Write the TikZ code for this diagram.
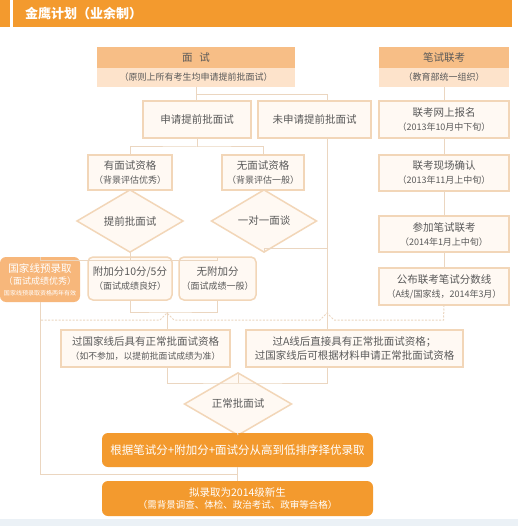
\documentclass[tikz,border=0pt]{standalone}
\usepackage{fontspec}
\setmainfont{Noto Sans CJK SC}
\usetikzlibrary{shapes.geometric}
\definecolor{og}{HTML}{F39A2E}
\definecolor{hd}{HTML}{F7BE86}
\definecolor{hl}{HTML}{FDE3CB}
\definecolor{bd}{HTML}{F2D6B8}
\definecolor{bf}{HTML}{FFF9F3}
\definecolor{ln}{HTML}{EBD6C0}
\definecolor{tx}{HTML}{595959}
\definecolor{lo}{HTML}{F7B77B}
\definecolor{bgs}{HTML}{EBF1F6}
\newcommand\fsA{\fontsize{10.5}{14}\selectfont}
\newcommand\fsB{\fontsize{9}{13}\selectfont}
\tikzset{
  box/.style={draw=bd, fill=bf, line width=1.5pt, inner sep=0pt, outer sep=0pt, align=center, text=tx, font=\fsA},
  rbox/.style={box, rounded corners=5pt},
  dia/.style={diamond, draw=bd, fill=bf, line width=1.5pt, inner sep=0pt, outer sep=0pt, text=tx, font=\fsA},
  hdr/.style={fill=hd, inner sep=0pt, outer sep=0pt, text=tx, font=\fsA},
  hdl/.style={fill=hl, inner sep=0pt, outer sep=0pt, text=tx, font=\fsB},
  obox/.style={fill=og, rounded corners=6pt, inner sep=0pt, outer sep=0pt, align=center, text=white},
  con/.style={draw=ln, line width=1pt},
  dsh/.style={draw=ln, line width=1pt, dash pattern=on 2pt off 1.5pt},
}
\begin{document}
\begin{tikzpicture}[x=1pt,y=-1pt]
\useasboundingbox (0,0) rectangle (518,526);
\fill[white] (0,0) rectangle (518,526);
\fill[bgs] (0,519) rectangle (518,526);
% title bar
\fill[og] (0,0) rectangle (10,27);
\fill[og] (13,0) rectangle (512,27);
\node[anchor=west, text=white, font=\fontsize{13}{15}\bfseries\selectfont, inner sep=0pt] (title) at (25,13.5) {金鹰计划（业余制）};
% headers
\node[hdr, minimum width=198pt, minimum height=21pt] (ms) at (196,57.5) {面\hspace{7pt}试};
\node[hdl, minimum width=198pt, minimum height=19pt] (ms2) at (196,77.5) {（原则上所有考生均申请提前批面试）};
\node[hdr, minimum width=130pt, minimum height=21pt] (bs) at (444,57.5) {笔试联考};
\node[hdl, minimum width=130pt, minimum height=19pt] (bs2) at (444,77.5) {（教育部统一组织）};
% left branch
\node[box, minimum width=108pt, minimum height=37pt] (sq) at (197,119.5) {申请提前批面试};
\node[box, minimum width=113pt, minimum height=37pt] (wsq) at (314.5,119.5) {未申请提前批面试};
\node[box, minimum width=84pt, minimum height=35pt] (ymz) at (130,172.5) {有面试资格\\{\fsB（背景评估优秀）}};
\node[box, minimum width=82pt, minimum height=35pt] (wmz) at (263,172.5) {无面试资格\\{\fsB（背景评估一般）}};
\node[dia, minimum width=106pt, minimum height=42pt] (d1) at (130,221) {提前批面试};
\node[dia, minimum width=105pt, minimum height=42pt] (d2) at (264,221) {一对一面谈};
\node[obox, fill=lo, minimum width=80pt, minimum height=45pt, font=\fsA] (gjx) at (40,279.5) {国家线预录取\\[-2pt]{\fsB（面试成绩优秀）}\\[-3pt]{\fontsize{6}{8}\selectfont 国家线预录取资格两年有效}};
\node[rbox, minimum width=84pt, minimum height=43pt] (fjf) at (130,278.5) {附加分10分/5分\\{\fsB（面试成绩良好）}};
\node[rbox, minimum width=77pt, minimum height=43pt] (wfj) at (217.5,278.5) {无附加分\\{\fsB（面试成绩一般）}};
% right column
\node[box, minimum width=130pt, minimum height=37pt] (r1) at (444,119.5) {联考网上报名\\{\fsB（2013年10月中下旬）}};
\node[box, minimum width=130pt, minimum height=36pt] (r2) at (444,173) {联考现场确认\\{\fsB（2013年11月上中旬）}};
\node[box, minimum width=130pt, minimum height=36pt] (r3) at (444,234) {参加笔试联考\\{\fsB（2014年1月上中旬）}};
\node[box, minimum width=130pt, minimum height=37pt] (r4) at (444,286.5) {公布联考笔试分数线\\{\fsB（A线/国家线，2014年3月）}};
% lower
\node[box, minimum width=169pt, minimum height=37pt] (g1) at (145.5,348.5) {过国家线后具有正常批面试资格\\{\fontsize{8.8}{12}\selectfont（如不参加，以提前批面试成绩为准）}};
\node[box, minimum width=217pt, minimum height=37pt] (g2) at (354.5,348.5) {过A线后直接具有正常批面试资格；\\过国家线后可根据材料申请正常批面试资格};
\node[dia, minimum width=107pt, minimum height=38pt] (d3) at (238,404) {正常批面试};
\node[obox, minimum width=271pt, minimum height=34pt, font=\fontsize{11.5}{14}\selectfont] (o1) at (237.5,450) {根据笔试分+附加分+面试分从高到低排序择优录取};
\node[obox, minimum width=271pt, minimum height=35pt, font=\fontsize{10.5}{13}\selectfont] (o2) at (237.5,498.5) {拟录取为2014级新生\\[-1pt]{\fontsize{9.5}{12}\selectfont（需背景调查、体检、政治考试、政审等合格）}};
% coordinates
\coordinate (j1) at (196,95);
\coordinate (j3) at (327,248);
\coordinate (j5) at (167,312);
\coordinate (j6) at (237.5,474);
\coordinate (j7) at (238,383);
\coordinate (k1) at (443.5,320);
\coordinate (k2) at (334,320);
\coordinate (k3) at (327,313);
\coordinate (k4) at (320,320);
\coordinate (k5) at (174,320);
\coordinate (k6) at (167,313);
\coordinate (k7) at (160,320);
\coordinate (k8) at (40,320);
% connectors
\draw[con] (ms2.south) -- (ms2.south |- sq.north);
\draw[con] (j1) -| ([xshift=12.5pt]wsq.north);
\draw[con] (sq.south) -- ++(0,9) coordinate (j2);
\draw[con] (ymz.north) |- (j2) -| (wmz.north);
\draw[con] (ymz.south) -- (d1.north);
\draw[con] (wmz.south) -- (d2.north |- wmz.south);
\draw[con] ([xshift=12.5pt]wsq.south) -- ([xshift=12.5pt]wsq.south |- g2.north);
\draw[con] (d2.south) |- (j3);
\draw[con] (d1.south) -- ++(0,8) coordinate (j4);
\draw[con] (gjx.north) |- (j4) -| (wfj.north);
\draw[con] (j4) -- (fjf.north);
\draw[con] (fjf.south) |- (j5) -| (wfj.south);
\draw[con] (j5) -- (j5 |- g1.north);
\draw[con] (gjx.south) |- (j6);
\draw[con] (bs2.south) -- (r1.north);
\draw[con] (r1.south) -- (r2.north);
\draw[con] (r2.south) -- (r3.north);
\draw[con] (r3.south) -- (r4.north);
\draw[dsh] (r4.south) -- (k1) -- (k2) -- (k3) -- (k4) -- (k5) -- (k6) -- (k7) -- (k8);
\draw[con] ([xshift=21.5pt]g1.south) |- (j7) -| ([xshift=-27.5pt]g2.south);
\draw[con] (j7) -- (d3.north);
\draw[con] (d3.south) -- (o1.north);
\draw[con] (o1.south) -- (o2.north);
\end{tikzpicture}
\end{document}
